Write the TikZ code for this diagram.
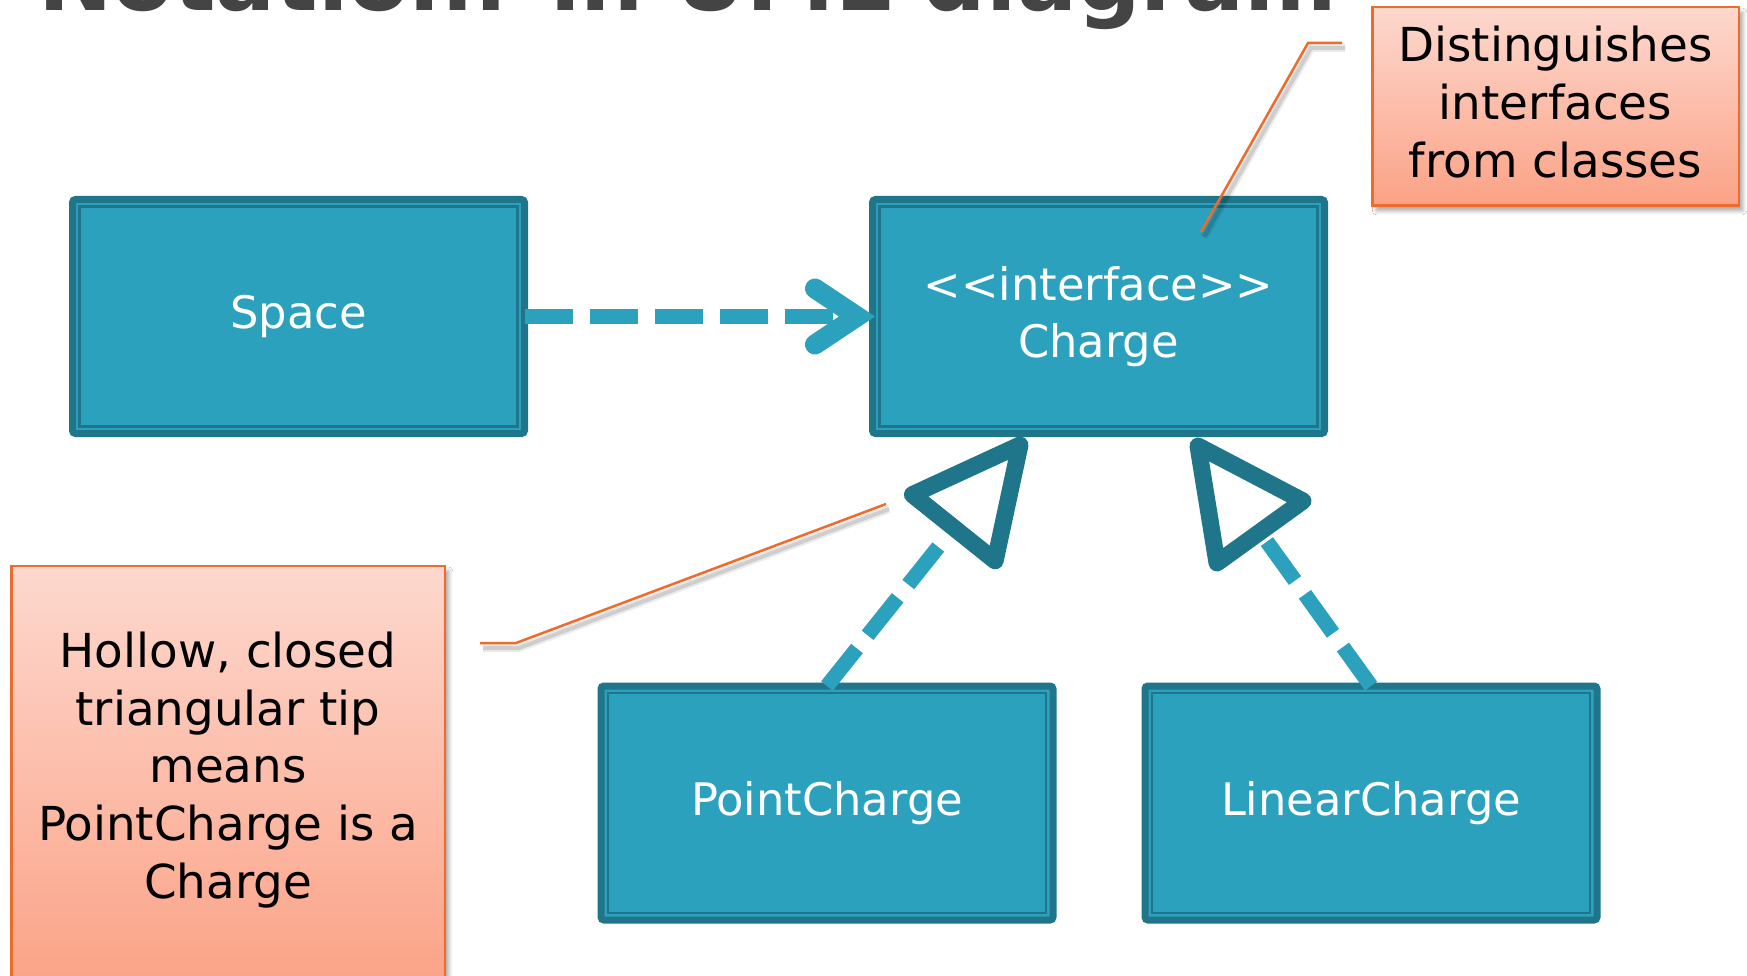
\documentclass[tikz,border=0pt]{standalone}
\usepackage{fontspec}
\setmainfont{DejaVu Sans}
\usepackage{graphicx}
\usetikzlibrary{calc,shadows.blur}
\definecolor{boxfill}{HTML}{2CA1BE}
\definecolor{boxdark}{HTML}{1F7589}
\definecolor{calltop}{HTML}{FDD8CE}
\definecolor{callbot}{HTML}{FBA286}
\definecolor{callline}{HTML}{EE6B2C}
\definecolor{titlegray}{HTML}{444444}
\tikzset{
  umlbox/.style={draw=boxdark, line width=7pt, fill=boxfill, rounded corners=3pt,
    minimum width=452pt, minimum height=234pt, outer sep=0pt, inner sep=0pt,
    text=white, font=\fontsize{44.8}{57}\selectfont, align=center,
    path picture={\draw[boxdark, line width=2.3pt, sharp corners]
      ($(path picture bounding box.north west)+(7,7)$) rectangle
      ($(path picture bounding box.south east)+(-7,-7)$);}},
  dashline/.style={draw=boxfill, line width=15pt, dash pattern=on 48pt off 17pt},
  openhead/.style={draw=boxfill, line width=20pt, line cap=round, line join=miter},
  hollowtri/.style={draw=boxdark, fill=white, line width=17pt, line join=round},
  callout/.style={draw=callline, line width=2.5pt, top color=calltop, bottom color=callbot,
    blur shadow={shadow xshift=4pt, shadow yshift=-5pt, shadow blur radius=4pt,
      shadow blur steps=6, shadow opacity=35},
    outer sep=0pt, inner sep=0pt},
  calltext/.style={font=\fontsize{46.8}{57.7}\selectfont, align=center, text=black, inner sep=0pt},
  leader/.style={draw=callline, line width=2.5pt,
    preaction={draw=black, draw opacity=0.08, line width=8pt,
      transform canvas={shift={(3pt,-5pt)}}},
    preaction={draw=black, draw opacity=0.12, line width=4pt,
      transform canvas={shift={(3pt,-5pt)}}}},
  titletext/.style={text=titlegray, inner sep=0pt, outer sep=0pt},
}
\begin{document}
\begin{tikzpicture}[x=1pt,y=-1pt]
\path[use as bounding box, fill=white] (0,0) rectangle (1747,976);
\clip (0,0) rectangle (1747,976);

% title (cut off at top)
\node[titletext, anchor=base west] (title) at (38,11)
  {\resizebox{1299pt}{!}{\bfseries\fontsize{90}{100}\selectfont Notation: in UML diagram}};

% class boxes
\node[umlbox] (space) at (298.5,316.5) {Space};
\node[umlbox] (charge) at (1098.5,316.5) {<\kern0pt<interface>\kern0pt>\\Charge};
\node[umlbox] (pc) at (827,803) {PointCharge};
\node[umlbox] (lc) at (1371,803) {LinearCharge};

% dependency: Space -> Charge
\draw[dashline, shorten >=40pt] (space.east) -- (charge.west);
\draw[openhead] ($(charge.west)+(-57.5,-28)$) -- ($(charge.west)+(-15.5,0)$) -- ($(charge.west)+(-57.5,28)$);

% realization arrows
\coordinate (t1) at ($(charge.south)+(-78.5,11.5)$);
\coordinate (t2) at ($(charge.south)+(99.5,12.5)$);
\draw[dashline] (pc.north) -- (t1);
\draw[dashline] (lc.north) -- (t2);
\coordinate (b1) at ($(t1)!106pt!(pc.north)$);
\coordinate (b2) at ($(t2)!106pt!(lc.north)$);
\draw[hollowtri] (t1) -- ($(b1)!53pt!90:(t1)$) -- ($(b1)!53pt!-90:(t1)$) -- cycle;
\draw[hollowtri] (t2) -- ($(b2)!53pt!90:(t2)$) -- ($(b2)!53pt!-90:(t2)$) -- cycle;

% callouts
\node[callout, minimum width=366.5pt, minimum height=198.5pt] (dist) at (1555.5,106.5) {};
\node[calltext] (disttext) at (1555.5,102) {Distinguishes\\interfaces\\from classes};
\node[callout, minimum width=433.5pt, minimum height=424pt] (hollow) at (228,778) {};
\node[calltext] (hollowtext) at (228,770) {Hollow, closed\\triangular tip\\means\\PointCharge is a\\Charge};

% leader lines
\coordinate (l1a) at (1342,43);
\coordinate (l1b) at (1308,43);
\coordinate (l1c) at (1201,232);
\draw[leader] (l1a) -- (l1b) -- (l1c);
\coordinate (l2a) at (480,643);
\coordinate (l2b) at (516,643);
\coordinate (l2c) at (886,504);
\draw[leader] (l2a) -- (l2b) -- (l2c);
\end{tikzpicture}
\end{document}
